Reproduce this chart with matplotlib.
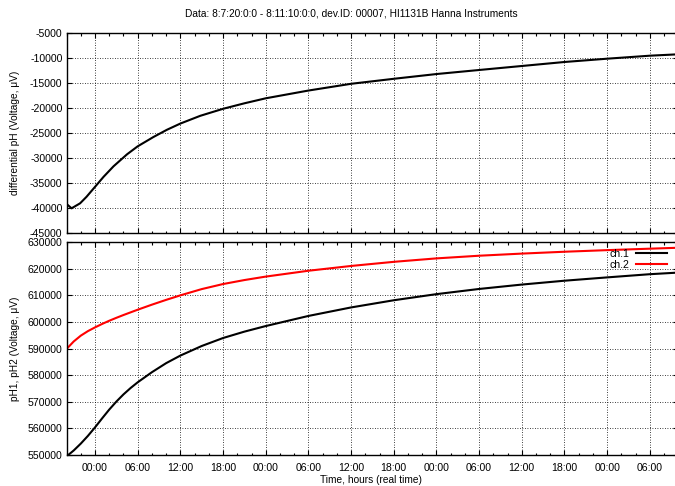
import matplotlib
matplotlib.use("Agg")
import matplotlib.pyplot as plt
from matplotlib.ticker import MultipleLocator

plt.rcParams["font.family"] = ["Liberation Sans", "DejaVu Sans"]
plt.rcParams["font.size"] = 7.6
plt.rcParams["axes.unicode_minus"] = False

# hours since 8:7 20:00
diff_hours = [0, 0.7, 1.9, 2.8, 4, 5.2, 6.6, 8.5, 10, 12.2, 14.1, 16, 18.8,
              22, 25, 28, 34, 40, 46, 52, 58, 64, 70, 76, 82, 86]
diff_ph = [-39140, -40000, -39000, -37700, -35700, -33700, -31600, -29200,
           -27600, -25750, -24300, -23050, -21500, -20100, -19000, -18000,
           -16450, -15100, -14100, -13150, -12340, -11540, -10740, -10080,
           -9480, -9200]

hours = [0, 1, 2, 3, 4, 5, 6, 7, 8, 9, 10, 12, 14, 16, 19, 22, 25, 28, 34,
         40, 46, 52, 58, 64, 70, 76, 82, 86]
ch1 = [549500, 551700, 554300, 557200, 560400, 563800, 567100, 570100,
       572800, 575200, 577350, 581150, 584550, 587400, 591000, 594000,
       596400, 598500, 602300, 605500, 608200, 610500, 612450, 614100,
       615550, 616800, 618000, 618610]
ch2 = [589900, 592700, 594900, 596600, 598000, 599300, 600500, 601600,
       602650, 603650, 604650, 606550, 608350, 610050, 612400, 614300,
       615800, 617100, 619300, 621100, 622650, 623950, 624950, 625750,
       626450, 627050, 627600, 627950]

tick_hours = [4, 10, 16, 22, 28, 34, 40, 46, 52, 58, 64, 70, 76, 82]
tick_labels = ["00:00", "06:00", "12:00", "18:00"] * 3 + ["00:00", "06:00"]

W, H = 675, 486
fig = plt.figure(figsize=(W / 100, H / 100), dpi=100)

left = 66.6 / W
width = 611.6 / W
ax1 = fig.add_axes([left, (H - 233.3) / H, width, (233.3 - 33.3) / H])
ax2 = fig.add_axes([left, (H - 455) / H, width, (455 - 242.3) / H])

grid_style = dict(color="black", linestyle=(0, (1, 2)), linewidth=0.6)

for ax in (ax1, ax2):
    ax.set_xlim(0, 86)
    ax.set_xticks(tick_hours)
    ax.xaxis.set_minor_locator(MultipleLocator(2))
    ax.tick_params(which="both", direction="in", top=True, right=True,
                   width=0.8, colors="black")
    ax.tick_params(which="major", length=3.6)
    ax.tick_params(which="minor", length=1.8)
    ax.tick_params(axis="y", pad=3)
    ax.tick_params(axis="x", pad=6)
    ax.grid(True, which="major", **grid_style)
    for sp in ax.spines.values():
        sp.set_linewidth(1.0)

# top panel
ax1.plot(diff_hours, diff_ph, color="black", linewidth=1.5)
ax1.set_ylim(-45000, -5000)
ax1.set_yticks(range(-45000, -4999, 5000))
ax1.set_xticklabels([])

# bottom panel
ax2.plot(hours, ch1, color="black", linewidth=1.5, label="ch.1")
ax2.plot(hours, ch2, color="red", linewidth=1.5, label="ch.2")
ax2.set_ylim(550000, 630000)
ax2.set_yticks(range(550000, 630001, 10000))
ax2.set_xticklabels(tick_labels)

ax2.legend(loc="upper right", bbox_to_anchor=(667 / W, (H - 249) / H),
           bbox_transform=fig.transFigure, frameon=False, markerfirst=False,
           handlelength=2.9, handletextpad=0.7, labelspacing=0.05,
           borderaxespad=0, borderpad=0, fontsize=7.6)

fig.text(351 / W, 1 - 14 / H,
         "Data: 8:7:20:0:0 - 8:11:10:0:0, dev.ID: 00007, HI1131B Hanna Instruments",
         ha="center", va="center", fontsize=7.3)
fig.text(371 / W, 1 - 480 / H, "Time, hours (real time)", ha="center",
         va="center", fontsize=7.3)
fig.text(15 / W, 1 - 133 / H, "differential pH (Voltage, \u03bcV)",
         rotation=90, ha="center", va="center", fontsize=7.3)
fig.text(15 / W, 1 - 349 / H, "pH1, pH2 (Voltage, \u03bcV)",
         rotation=90, ha="center", va="center", fontsize=7.3)

fig.savefig("out.png", dpi=100)
